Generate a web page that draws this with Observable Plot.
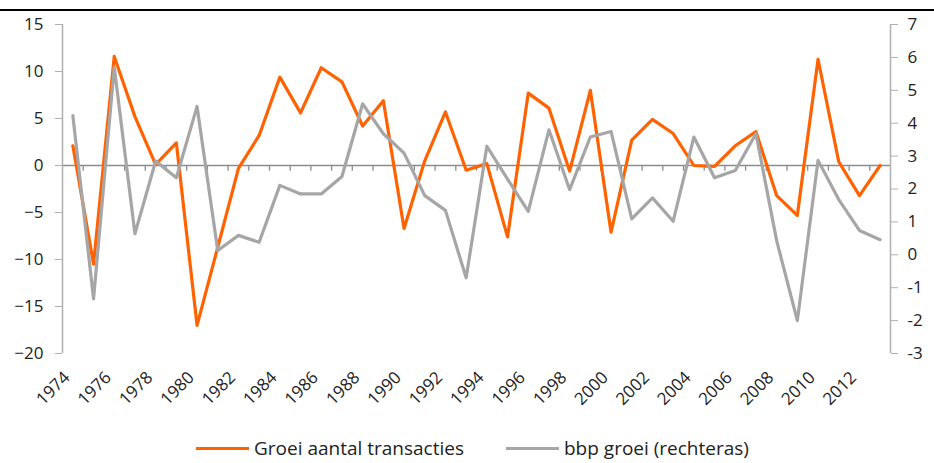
<!DOCTYPE html>
<html>
<head>
<meta charset="utf-8">
<script src="https://cdn.jsdelivr.net/npm/d3@7"></script>
<script src="https://cdn.jsdelivr.net/npm/@observablehq/plot@0.6"></script>
<style>
  html, body { margin: 0; padding: 0; background: #fff; width: 934px; height: 463px; overflow: hidden; position: relative; font-family: "Open Sans", "Noto Sans", sans-serif; }
  #topbar { position: absolute; left: 0; top: 9px; width: 934px; height: 2px; background: #000; }
  #chart { position: absolute; left: 0; top: 0; }
  #legend { position: absolute; left: 196px; top: 436px; line-height: 24px; display: flex; align-items: center; font-size: 19px; color: #222; white-space: nowrap; }
  .item { display: flex; align-items: center; }
  .sw { width: 53px; height: 3px; margin-right: 5px; }
</style>
</head>
<body>
<div id="chart"></div>
<div id="topbar"></div>
<div id="legend"></div>
<script>
// Categories (years)
const years = [1974, 1975, 1976, 1977, 1978, 1979, 1980, 1981, 1982, 1983,
               1984, 1985, 1986, 1987, 1988, 1989, 1990, 1991, 1992, 1993,
               1994, 1995, 1996, 1997, 1998, 1999, 2000, 2001, 2002, 2003,
               2004, 2005, 2006, 2007, 2008, 2009, 2010, 2011, 2012, 2013];
// Groei aantal transacties (left axis, %)
const transacties = [2.1, -10.5, 11.6, 5.2, 0.1, 2.4, -17.0, -8.7, -0.3, 3.2,
                     9.4, 5.6, 10.4, 8.9, 4.2, 6.9, -6.7, 0.5, 5.7, -0.5,
                     0.2, -7.6, 7.7, 6.1, -0.6, 8.0, -7.1, 2.7, 4.9, 3.4,
                     0.0, -0.1, 2.1, 3.6, -3.2, -5.3, 11.3, 0.4, -3.2, 0.0];
// bbp groei (right axis, %)
const bbp = [4.23, -1.34, 5.7, 0.64, 2.85, 2.34, 4.51, 0.13, 0.59, 0.38,
             2.11, 1.85, 1.85, 2.38, 4.59, 3.68, 3.09, 1.8, 1.35, -0.7,
             3.3, 2.3, 1.32, 3.8, 1.98, 3.58, 3.75, 1.09, 1.73, 1.02,
             3.58, 2.34, 2.56, 3.68, 0.43, -2.0, 2.87, 1.68, 0.74, 0.46];
// Tick labels
const xTickYears = ["1974", "1976", "1978", "1980", "1982", "1984", "1986", "1988", "1990", "1992",
                    "1994", "1996", "1998", "2000", "2002", "2004", "2006", "2008", "2010", "2012"];
const leftTicks = [-20, -15, -10, -5, 0, 5, 10, 15];
const rightTicks = [-3, -2, -1, 0, 1, 2, 3, 4, 5, 6, 7];
const seriesNames = ["Groei aantal transacties", "bbp groei (rechteras)"];
const seriesColors = ["#FF6200", "#A6A6A6"];

// Right axis [-3, 7] mapped onto left axis [-20, 15]
const toLeft = r => 15 - (7 - r) * 3.5;
const toRight = l => String(Math.round(7 - (15 - l) / 3.5));

const rows = years.map((year, i) => ({year, transacties: transacties[i], bbp: bbp[i]}));
const boundaries = years.slice(0, -1).map(y => y + 0.5);

const chart = Plot.plot({
  width: 934,
  height: 430,
  marginLeft: 62,
  marginRight: 44,
  marginTop: 24,
  marginBottom: 77,
  style: {fontFamily: "'Open Sans', 'Noto Sans', sans-serif", fontSize: "17px", color: "#222", background: "transparent"},
  x: {domain: [1973.5, 2013.5], axis: null},
  y: {domain: [-20, 15], axis: null},
  marks: [
    Plot.ruleY([0], {stroke: "#8c8c8c", strokeWidth: 1.3}),
    Plot.ruleX(boundaries, {y1: 0, y2: -0.6, stroke: "#8c8c8c", strokeWidth: 1.3}),
    Plot.ruleX([1973.5, 2013.5], {stroke: "#b0b0b0", strokeWidth: 1.5}),
    Plot.axisY(leftTicks, {anchor: "left", tickSize: 7, tickPadding: 12, stroke: "#b0b0b0", fill: "#222", fontSize: 17, label: null}),
    Plot.axisY(rightTicks.map(toLeft), {anchor: "right", tickSize: 7, tickPadding: 10, tickFormat: toRight, stroke: "#b0b0b0", fill: "#222", fontSize: 17, label: null}),
    Plot.text(xTickYears, {x: d => +d, text: d => d, frameAnchor: "bottom", dy: 25, dx: -2, rotate: -45, textAnchor: "end", fontSize: 17, fill: "#222"}),
    Plot.line(rows, {x: "year", y: "transacties", stroke: seriesColors[0], strokeWidth: 3.2, strokeLinejoin: "round"}),
    Plot.line(rows, {x: "year", y: d => toLeft(d.bbp), stroke: seriesColors[1], strokeWidth: 3.2, strokeLinejoin: "round"})
  ]
});
document.getElementById("chart").appendChild(chart);

const legend = document.getElementById("legend");
seriesNames.forEach((name, i) => {
  const item = document.createElement("div");
  item.className = "item";
  if (i > 0) item.style.marginLeft = "42px";
  const sw = document.createElement("span");
  sw.className = "sw";
  sw.style.background = seriesColors[i];
  const t = document.createElement("span");
  t.textContent = name;
  item.appendChild(sw);
  item.appendChild(t);
  legend.appendChild(item);
});
</script>
</body>
</html>
